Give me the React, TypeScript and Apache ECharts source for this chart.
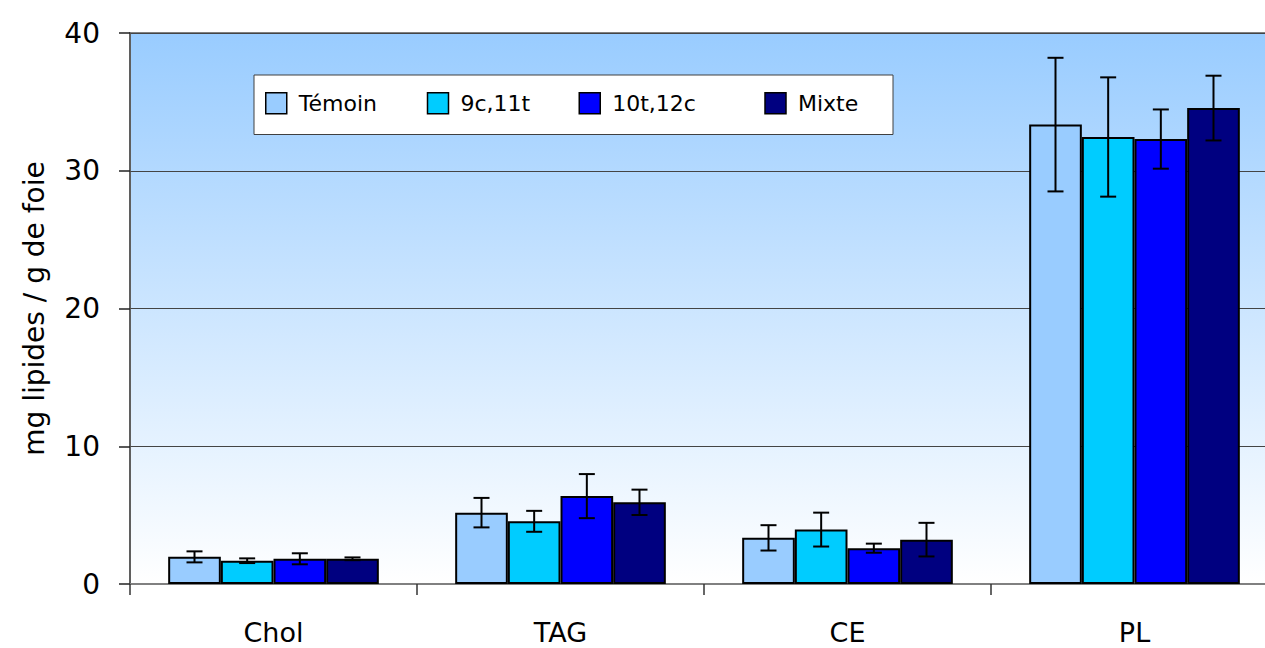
import React, { useEffect, useRef } from "react";
import * as echarts from "echarts";

const categories = ["Chol", "TAG", "CE", "PL"];
const seriesNames = ["Témoin", "9c,11t", "10t,12c", "Mixte"];
const seriesColors = ["#99CCFF", "#00CCFF", "#0000FF", "#000080"];

const temoin = [1.97, 5.18, 3.35, 33.35];
const c9t11 = [1.69, 4.55, 3.95, 32.45];
const t10c12 = [1.83, 6.38, 2.6, 32.3];
const mixte = [1.83, 5.93, 3.22, 34.55];

const temoinErr = [0.4, 1.07, 0.92, 4.85];
const c9t11Err = [0.17, 0.76, 1.23, 4.33];
const t10c12Err = [0.4, 1.6, 0.33, 2.15];
const mixteErr = [0.1, 0.92, 1.22, 2.35];

const yTicks = [0, 10, 20, 30, 40];

const allValues = [temoin, c9t11, t10c12, mixte];
const allErrors = [temoinErr, c9t11Err, t10c12Err, mixteErr];

const FONT = "'Comic Sans MS', 'DejaVu Sans', sans-serif";
const CATEGORY_GAP = 0.266;

const legendTextWidths = [118, 108, 142, 70];

export default function App() {
  const ref = useRef<HTMLDivElement>(null);

  useEffect(() => {
    if (!ref.current) return;
    const chart = echarts.init(ref.current, null, { renderer: "svg" });

    const barSeries = seriesNames.map((name, i) => ({
      name,
      type: "bar",
      data: allValues[i],
      barGap: "0%",
      barCategoryGap: CATEGORY_GAP * 100 + "%",
      itemStyle: {
        color: seriesColors[i],
        borderColor: "#000",
        borderWidth: 2,
      },
      z: 2,
    }));

    const errData: number[][] = [];
    allValues.forEach((vals, s) => {
      vals.forEach((v, c) => {
        errData.push([c, v, allErrors[s][c], s]);
      });
    });

    const errSeries = {
      type: "custom",
      name: "errors",
      data: errData,
      encode: { x: 0, y: 1 },
      z: 5,
      renderItem: (params: any, api: any) => {
        const cat = api.value(0);
        const val = api.value(1);
        const err = api.value(2);
        const s = api.value(3);
        const bandW = api.size([1, 0])[0];
        const barW = (bandW * (1 - CATEGORY_GAP)) / 4;
        const center = api.coord([cat, val]);
        const x = center[0] + (s - 1.5) * barW;
        const yTop = api.coord([cat, val + err])[1];
        const yBot = api.coord([cat, val - err])[1];
        const cap = 8;
        const style = { stroke: "#000", lineWidth: 2 };
        return {
          type: "group",
          children: [
            { type: "line", shape: { x1: x, y1: yTop, x2: x, y2: yBot }, style },
            { type: "line", shape: { x1: x - cap, y1: yTop, x2: x + cap, y2: yTop }, style },
            { type: "line", shape: { x1: x - cap, y1: yBot, x2: x + cap, y2: yBot }, style },
          ],
        };
      },
    };

    chart.setOption({
      animation: false,
      backgroundColor: "#ffffff",
      textStyle: { fontFamily: FONT },
      grid: {
        left: 130,
        top: 33,
        bottom: 64,
        right: 0,
        show: true,
        borderColor: "#808080",
        borderWidth: 2,
        backgroundColor: new echarts.graphic.LinearGradient(0, 0, 0, 1, [
          { offset: 0, color: "#99CCFF" },
          { offset: 1, color: "#FFFFFF" },
        ]),
      },
      legend: {
        left: 254,
        top: 75,
        orient: "horizontal",
        backgroundColor: "#FFFFFF",
        borderColor: "#404040",
        borderWidth: 1,
        borderRadius: 0,
        padding: [17, 25, 20, 11],
        itemWidth: 21,
        itemHeight: 21,
        itemGap: 10,
        icon: "rect",
        selectedMode: false,
        itemStyle: { borderColor: "#000", borderWidth: 1.5 },
        textStyle: {
          fontFamily: FONT,
          fontSize: 22,
          color: "#000",
          lineHeight: 21,
        },
        data: seriesNames.map((name, i) => ({
          name,
          textStyle: {
            width: legendTextWidths[i],
            padding: [0, 0, 0, 7],
          },
        })),
      },
      xAxis: {
        type: "category",
        data: categories,
        boundaryGap: true,
        axisLine: { show: true, lineStyle: { color: "#808080", width: 2 } },
        axisTick: {
          show: true,
          length: 11,
          alignWithLabel: false,
          lineStyle: { color: "#333", width: 1.5 },
        },
        axisLabel: {
          fontFamily: FONT,
          fontSize: 27,
          color: "#000",
          margin: 35,
        },
      },
      yAxis: {
        type: "value",
        min: yTicks[0],
        max: yTicks[yTicks.length - 1],
        interval: 10,
        name: "mg lipides / g de foie",
        nameLocation: "middle",
        nameGap: 82,
        nameRotate: 90,
        nameTextStyle: { fontFamily: FONT, fontSize: 28, color: "#000" },
        axisLine: { show: true, lineStyle: { color: "#555", width: 1.5 } },
        axisTick: { show: true, length: 11, lineStyle: { color: "#222", width: 1.5 } },
        axisLabel: {
          fontFamily: FONT,
          fontSize: 28,
          color: "#000",
          margin: 30,
        },
        splitLine: { show: true, lineStyle: { color: "#444", width: 1 } },
      },
      series: [...barSeries, errSeries],
    });

    return () => chart.dispose();
  }, []);

  return (
    <div
      style={{
        position: "fixed",
        left: 0,
        top: 0,
        width: 1265,
        height: 648,
        overflow: "hidden",
        background: "#fff",
      }}
    >
      <div ref={ref} style={{ width: 1278, height: 648 }} />
    </div>
  );
}
